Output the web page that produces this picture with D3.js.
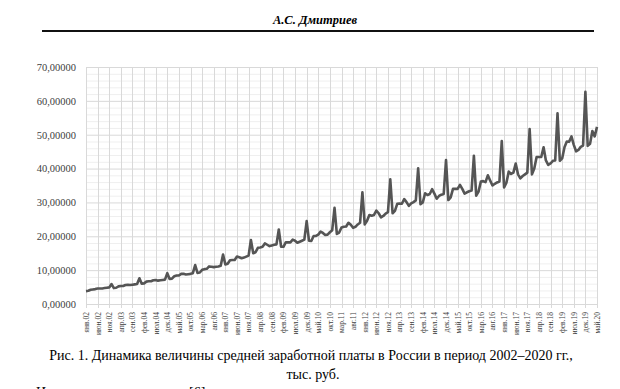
<!DOCTYPE html>
<html lang="ru">
<head>
    <meta charset="UTF-8">
    <title>Динамика средней заработной платы</title>
    <script src="https://d3js.org/d3.v7.min.js"></script>
    <style>
        body {
            margin: 0;
            background: #fff;
            font-family: "Liberation Serif", "DejaVu Serif", serif;
        }
        .grid-major line { stroke: #d9d9d9; stroke-width: 1; }
        .grid-minor line { stroke: #efefef; stroke-width: 1; }
        .axis text { fill: #404040; font-family: "Liberation Serif", serif; }
    </style>
</head>
<body>
<svg id="chart" width="620" height="389"></svg>
<script>
    // Подписи месяцев
    const monthNames = ["янв", "фев", "мар", "апр", "май", "июн", "июл", "авг", "сен", "окт", "ноя", "дек"];
    const years = d3.range(2002, 2021);

    // Средняя зарплата, тыс. руб. (по месяцам, янв.2002 – май.2020)
    const wages2002 = [3.8, 3.9, 4.2, 4.3, 4.4, 4.6, 4.6, 4.6, 4.7, 4.8, 4.9, 5.9];
    const wages2003 = [4.7, 4.8, 5.2, 5.3, 5.3, 5.6, 5.7, 5.6, 5.7, 5.8, 5.9, 7.6];
    const wages2004 = [6.0, 6.1, 6.6, 6.7, 6.7, 7.0, 7.1, 6.9, 7.0, 7.1, 7.2, 9.1];
    const wages2005 = [7.4, 7.5, 8.2, 8.4, 8.4, 8.9, 8.9, 8.7, 8.8, 8.9, 9.1, 11.5];
    const wages2006 = [9.2, 9.3, 10.1, 10.3, 10.4, 11.1, 11.0, 10.9, 11.0, 11.1, 11.3, 14.6];
    const wages2007 = [11.7, 11.9, 12.9, 13.0, 13.0, 14.0, 13.8, 13.5, 13.7, 14.0, 14.3, 18.9];
    const wages2008 = [15.0, 15.3, 16.6, 16.7, 16.9, 17.9, 17.5, 17.1, 17.3, 17.5, 17.6, 22.0];
    const wages2009 = [16.9, 16.9, 18.2, 18.2, 18.2, 19.0, 18.7, 18.1, 18.4, 18.7, 19.0, 24.5];
    const wages2010 = [18.7, 18.6, 20.1, 20.1, 20.5, 21.4, 21.0, 20.4, 20.5, 21.2, 21.8, 28.4];
    const wages2011 = [20.7, 21.1, 22.6, 22.8, 22.9, 24.0, 23.4, 22.5, 22.8, 23.5, 24.0, 33.0];
    const wages2012 = [23.5, 24.6, 26.3, 26.1, 26.3, 27.6, 26.8, 25.6, 26.0, 26.7, 27.1, 36.8];
    const wages2013 = [26.8, 27.5, 29.6, 29.7, 29.6, 31.0, 30.1, 29.0, 29.7, 30.1, 30.6, 40.1];
    const wages2014 = [29.5, 30.0, 32.7, 32.2, 32.5, 33.9, 32.6, 31.1, 31.9, 32.3, 32.5, 42.5];
    const wages2015 = [30.7, 31.5, 34.0, 34.0, 34.0, 35.2, 34.0, 32.6, 33.0, 33.3, 33.5, 43.8];
    const wages2016 = [32.0, 33.2, 36.2, 36.3, 36.0, 38.0, 36.5, 35.0, 35.5, 35.9, 36.2, 48.1];
    const wages2017 = [34.4, 35.8, 39.1, 38.4, 38.8, 41.5, 38.3, 37.1, 37.8, 38.3, 38.8, 51.7];
    const wages2018 = [38.3, 40.0, 43.4, 43.4, 43.4, 46.3, 42.4, 41.1, 41.5, 42.3, 42.4, 56.3];
    const wages2019 = [42.3, 43.0, 46.3, 48.0, 47.9, 49.5, 47.0, 45.1, 45.5, 46.4, 46.8, 62.7];
    const wages2020 = [46.7, 47.3, 51.1, 49.5, 52.3];

    const yTicks = [0, 10, 20, 30, 40, 50, 60, 70];

    const wages = [].concat(wages2002, wages2003, wages2004, wages2005, wages2006, wages2007,
        wages2008, wages2009, wages2010, wages2011, wages2012, wages2013, wages2014,
        wages2015, wages2016, wages2017, wages2018, wages2019, wages2020);

    const data = wages.map((v, i) => ({
        label: monthNames[i % 12] + "." + String(years[Math.floor(i / 12)]).slice(2),
        value: v
    }));

    const svg = d3.select("#chart");

    // Шапка страницы
    svg.append("text")
        .attr("x", 315).attr("y", 24)
        .attr("text-anchor", "middle")
        .style("font-size", "12.5px")
        .style("font-weight", "bold")
        .style("font-style", "italic")
        .text("А.С. Дмитриев");
    svg.append("line")
        .attr("x1", 42).attr("x2", 594)
        .attr("y1", 31).attr("y2", 31)
        .attr("stroke", "#111").attr("stroke-width", 2);

    // Область графика
    const plot = { left: 86, right: 597, top: 67, bottom: 304 };

    const x = d3.scaleLinear()
        .domain([0, data.length - 1])
        .range([plot.left, plot.right]);

    const y = d3.scaleLinear()
        .domain([0, 70])
        .range([plot.bottom, plot.top]);

    const labelIdx = d3.range(0, data.length, 5);

    // Сетка: второстепенные горизонтальные линии
    svg.append("g")
        .attr("class", "grid-minor")
        .selectAll("line")
        .data(d3.range(0, 71, 2).filter(v => v % 10 !== 0))
        .join("line")
        .attr("x1", plot.left).attr("x2", plot.right)
        .attr("y1", d => y(d) + 0.5).attr("y2", d => y(d) + 0.5);

    // Основные горизонтальные линии
    svg.append("g")
        .attr("class", "grid-major")
        .selectAll("line")
        .data(yTicks)
        .join("line")
        .attr("x1", plot.left).attr("x2", plot.right)
        .attr("y1", d => y(d) + 0.5).attr("y2", d => y(d) + 0.5);

    // Вертикальные линии
    svg.append("g")
        .attr("class", "grid-major")
        .selectAll("line")
        .data(labelIdx)
        .join("line")
        .attr("x1", d => Math.round(x(d)) + 0.5).attr("x2", d => Math.round(x(d)) + 0.5)
        .attr("y1", plot.top).attr("y2", plot.bottom + 4);

    // Ось Y
    const yAxis = d3.axisLeft(y)
        .tickValues(yTicks)
        .tickSize(0)
        .tickPadding(10)
        .tickFormat(d => d3.format(".5f")(d).replace(".", ","));

    svg.append("g")
        .attr("class", "axis")
        .attr("transform", `translate(${plot.left},0)`)
        .call(yAxis)
        .call(g => g.select(".domain").remove())
        .selectAll("text")
        .style("font-size", "10.5px");

    // Ось X
    const xAxis = d3.axisBottom(x)
        .tickValues(labelIdx)
        .tickSize(0)
        .tickFormat(i => data[i].label);

    svg.append("g")
        .attr("class", "axis")
        .attr("transform", `translate(0,${plot.bottom})`)
        .call(xAxis)
        .call(g => g.select(".domain").remove())
        .selectAll("text")
        .style("font-size", "7.5px")
        .style("text-anchor", "end")
        .attr("transform", "rotate(-90)")
        .attr("x", -8)
        .attr("y", 0)
        .attr("dy", "0.32em");

    // Линия
    const line = d3.line()
        .x((d, i) => x(i))
        .y(d => y(d.value));

    svg.append("path")
        .datum(data)
        .attr("fill", "none")
        .attr("stroke", "#555")
        .attr("stroke-width", 2.6)
        .attr("stroke-linejoin", "round")
        .attr("d", line);

    // Подпись рисунка
    svg.append("text")
        .attr("x", 311).attr("y", 360)
        .attr("text-anchor", "middle")
        .style("font-size", "14px")
        .text("Рис. 1. Динамика величины средней заработной платы в России в период 2002–2020 гг.,");
    svg.append("text")
        .attr("x", 313).attr("y", 379)
        .attr("text-anchor", "middle")
        .style("font-size", "14px")
        .text("тыс. руб.");
    svg.append("text")
        .attr("x", 36).attr("y", 397)
        .style("font-size", "14px")
        .text("Источник: составлено по [6].");
</script>
</body>
</html>
